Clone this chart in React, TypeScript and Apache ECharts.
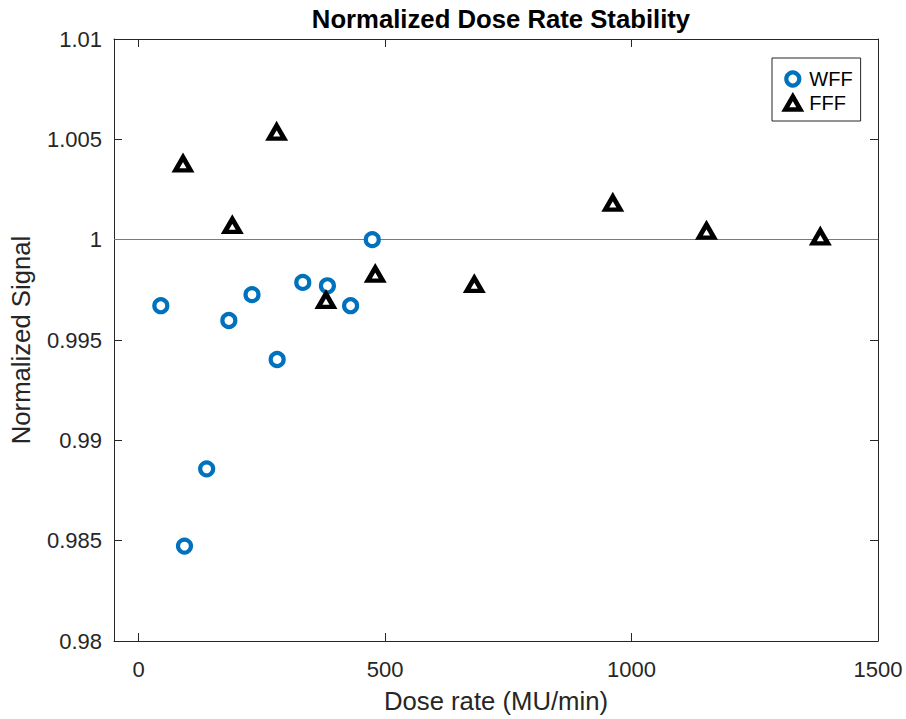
import React, { useEffect, useRef } from "react";
import * as echarts from "echarts";

const wffDose = [45, 93, 138, 183, 230, 281, 333, 383, 430, 474];
const wffSignal = [0.99671, 0.98473, 0.98858, 0.99597, 0.99726, 0.99403, 0.99787, 0.9977, 0.99671, 1.0];
const fffDose = [90, 190, 280, 380, 480, 681, 962, 1152, 1383];
const fffSignal = [1.00378, 1.00071, 1.00536, 0.99698, 0.99828, 0.99777, 1.00182, 1.00043, 1.00014];
const xTicks = [0, 500, 1000, 1500];
const yTicks = [0.98, 0.985, 0.99, 0.995, 1, 1.005, 1.01];
const refLevel = 1;

const FONT = "'Liberation Sans', Arial, Helvetica, sans-serif";
const TXT = "#262626";

export default function App() {
  const ref = useRef<HTMLDivElement>(null);
  useEffect(() => {
    if (!ref.current) return;
    const chart = echarts.init(ref.current, undefined, { renderer: "svg" });
    const axisCommon = {
      type: "value",
      axisLine: { show: true, onZero: false, lineStyle: { color: TXT, width: 1 } },
      splitLine: { show: false },
    };
    const xBase = { ...axisCommon, min: -50, max: 1500 };
    const yBase = { ...axisCommon, min: 0.98, max: 1.01 };
    const fmt = (v: number) => String(v);
    chart.setOption({
      animation: false,
      backgroundColor: "#ffffff",
      textStyle: { fontFamily: FONT },
      title: {
        text: "Normalized Dose Rate Stability",
        left: 496,
        textAlign: "center",
        top: 1,
        textStyle: { fontFamily: FONT, fontSize: 25.7, fontWeight: "bold", color: "#000" },
      },
      grid: { left: 114, right: 28, top: 39, bottom: 75, containLabel: false },
      legend: {
        orient: "vertical",
        left: 772,
        top: 58,
        padding: [11, 8, 8, 11],
        itemGap: 4,
        itemWidth: 15,
        itemHeight: 13,
        borderColor: TXT,
        borderWidth: 1,
        backgroundColor: "#fff",
        textStyle: { fontFamily: FONT, fontSize: 20, color: "#000", padding: [0, 0, 0, 4] },
        data: [
          { name: "WFF", icon: "circle", itemStyle: { borderWidth: 4.2, color: "#fff", borderColor: "#0072BD" } },
          { name: "FFF", icon: "triangle", itemStyle: { borderWidth: 4.6, color: "#fff", borderColor: "#000" } },
        ],
      },
      xAxis: [
        {
          ...xBase,
          position: "bottom",
          axisTick: { show: true, inside: true, length: 8, customValues: xTicks, lineStyle: { color: TXT } },
          axisLabel: { show: true, customValues: xTicks, formatter: fmt, margin: 17, fontSize: 22, color: TXT, fontFamily: FONT },
          name: "Dose rate (MU/min)",
          nameLocation: "middle",
          nameGap: 47,
          nameTextStyle: { fontSize: 25.7, color: TXT, fontFamily: FONT },
        },
        {
          ...xBase,
          position: "top",
          axisTick: { show: true, inside: true, length: 8, customValues: xTicks, lineStyle: { color: TXT } },
          axisLabel: { show: false },
        },
      ],
      yAxis: [
        {
          ...yBase,
          position: "left",
          axisTick: { show: true, inside: true, length: 8, customValues: yTicks, lineStyle: { color: TXT } },
          axisLabel: { show: true, customValues: yTicks, formatter: fmt, margin: 12, fontSize: 22, color: TXT, fontFamily: FONT },
          name: "Normalized Signal",
          nameLocation: "middle",
          nameGap: 80,
          nameTextStyle: { fontSize: 25.7, color: TXT, fontFamily: FONT },
        },
        {
          ...yBase,
          position: "right",
          axisTick: { show: true, inside: true, length: 8, customValues: yTicks, lineStyle: { color: TXT } },
          axisLabel: { show: false },
        },
      ],
      series: [
        {
          name: "WFF",
          type: "scatter",
          xAxisIndex: 0,
          yAxisIndex: 0,
          symbol: "circle",
          symbolSize: 13,
          itemStyle: { color: "#fff", borderColor: "#0072BD", borderWidth: 4.2, opacity: 1 },
          data: wffDose.map((d, i) => [d, wffSignal[i]]),
          markLine: {
            silent: true,
            symbol: ["none", "none"],
            label: { show: false },
            lineStyle: { color: "#7a7a7a", width: 1, type: "solid" },
            data: [{ yAxis: refLevel }],
            z: 1,
          },
          z: 3,
        },
        {
          name: "FFF",
          type: "scatter",
          xAxisIndex: 0,
          yAxisIndex: 0,
          symbol: "triangle",
          symbolSize: [15, 13],
          itemStyle: {
            color: "#fff",
            borderColor: "#000",
            borderWidth: 4.6,
            borderJoin: "miter",
            borderMiterLimit: 10,
            opacity: 1,
          },
          data: fffDose.map((d, i) => [d, fffSignal[i]]),
          z: 3,
        },
      ],
    });
    return () => chart.dispose();
  }, []);
  return (
    <div
      ref={ref}
      style={{ position: "fixed", left: 0, top: 0, width: 906, height: 719, background: "#fff" }}
    />
  );
}
